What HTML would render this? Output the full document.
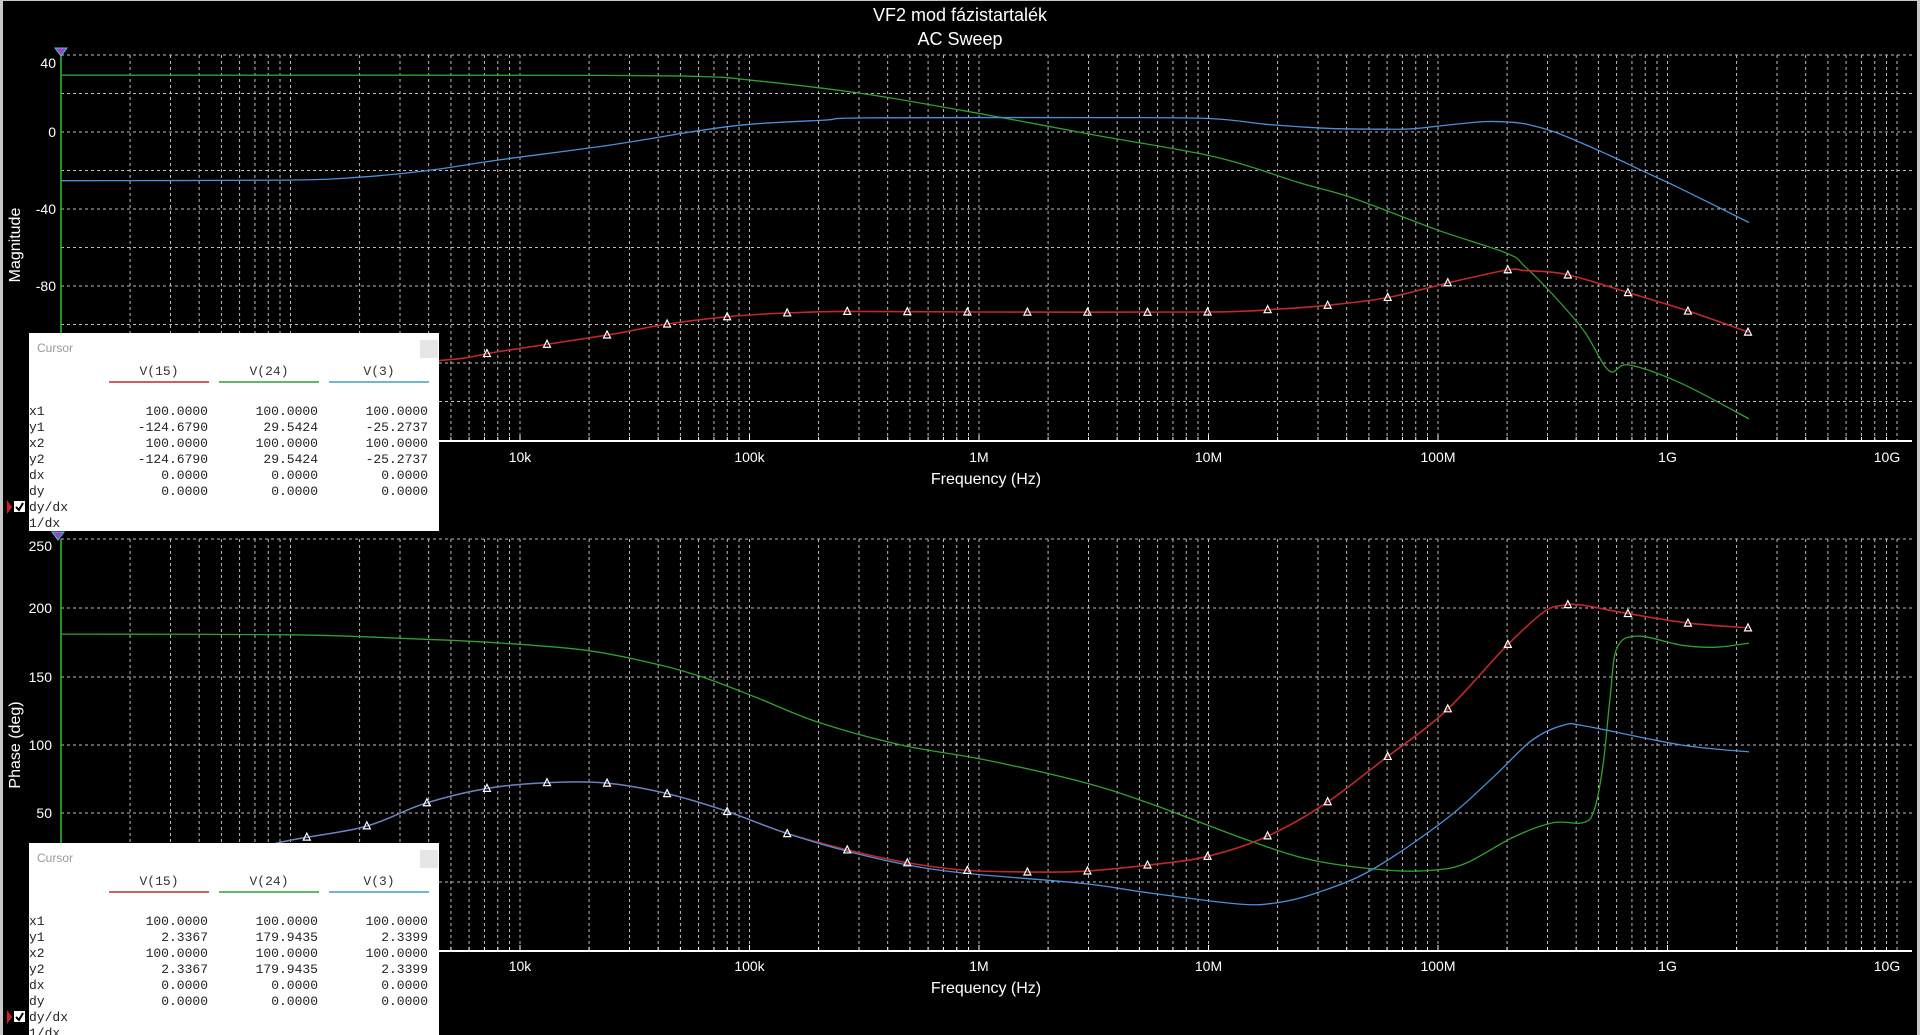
<!DOCTYPE html>
<html><head><meta charset="utf-8"><style>
html,body{margin:0;padding:0;background:#000;width:1920px;height:1035px;overflow:hidden}
svg{display:block}
</style></head><body>
<svg id="s" width="1920" height="1035" xmlns="http://www.w3.org/2000/svg" font-family="Liberation Sans, sans-serif">
<rect width="1920" height="1035" fill="#000"/>
<rect x="0" y="0" width="3" height="1035" fill="#c8c8c8"/>
<rect x="1917" y="0" width="3" height="1035" fill="#c8c8c8"/>
<rect x="0" y="0" width="1920" height="1" fill="#c8c8c8"/>
<text x="960" y="21" fill="#fff" font-size="18" text-anchor="middle">VF2 mod fázistartalék</text>
<text x="960" y="45" fill="#fff" font-size="18" text-anchor="middle">AC Sweep</text>
<g id="g"></g>
</svg>
<script>
var NS="http://www.w3.org/2000/svg",g=document.getElementById('g');
function el(t,a,txt){var e=document.createElementNS(NS,t);for(var k in a)e.setAttribute(k,a[k]);if(txt!=null)e.textContent=txt;g.appendChild(e);return e;}
var L=61,D=229.5;function X(lf){return L+D*(lf-2);}
function Yt(v){return 132-1.925*v;} function Yb(v){return 882-1.377*v;}
function grid(y0,y1,hs){
 for(var n=2;n<=9;n++)for(var k=1;k<=9;k++){var x=X(n+Math.log10(k));if(n==2&&k==1)continue;el('line',{x1:x,x2:x,y1:y0,y2:y1,stroke:'#bdbdbd','stroke-width':1,'stroke-dasharray':'3,3'});}
 var x=X(10);el('line',{x1:x,x2:x,y1:y0,y2:y1,stroke:'#bdbdbd','stroke-width':1,'stroke-dasharray':'3,3'});
 hs.forEach(function(y){el('line',{x1:L,x2:1912,y1:y,y2:y,stroke:'#bdbdbd','stroke-width':1,'stroke-dasharray':'3,3'});});
 el('line',{x1:L,x2:1912,y1:y1,y2:y1,stroke:'#fff','stroke-width':2});
 for(var n=2;n<=9;n++)for(var k=1;k<=9;k++){var x=X(n+Math.log10(k));el('line',{x1:x,x2:x,y1:y1,y2:y1-(k==1?6:4),stroke:'#fff','stroke-width':1});}
 el('line',{x1:L,x2:L,y1:y0,y2:y1,stroke:'#2ec02e','stroke-width':1.5});
}
var ht=[];for(var i=0;i<10;i++)ht.push(55+i*38.5);
grid(55,441,ht);
var hb=[539,608,677,745,813,882];
grid(539,951,hb);
// labels
[["40",63],["0",132],["-40",209],["-80",286]].forEach(function(a){el('text',{x:56,y:a[1]+5,fill:'#fff','font-size':14,'text-anchor':'end'},a[0]);});
[["250",546],["200",608],["150",677],["100",745],["50",813]].forEach(function(a){el('text',{x:52,y:a[1]+5,fill:'#fff','font-size':14,'text-anchor':'end'},a[0]);});
var xl=["10k","100k","1M","10M","100M","1G","10G"];
xl.forEach(function(t,i){var x=X(4+i);if(i==6)x-=10;el('text',{x:x,y:462,fill:'#fff','font-size':14,'text-anchor':'middle'},t);el('text',{x:x,y:971,fill:'#fff','font-size':14,'text-anchor':'middle'},t);});
el('text',{x:986,y:484,fill:'#fff','font-size':16,'text-anchor':'middle'},"Frequency (Hz)");
el('text',{x:986,y:993,fill:'#fff','font-size':16,'text-anchor':'middle'},"Frequency (Hz)");
el('text',{x:0,y:0,fill:'#fff','font-size':16,'text-anchor':'middle',transform:'translate(20,245) rotate(-90)'},"Magnitude");
el('text',{x:0,y:0,fill:'#fff','font-size':16,'text-anchor':'middle',transform:'translate(20,745) rotate(-90)'},"Phase (deg)");
// curves
function path(pts,fy,col,w){
 var P=pts.map(function(p){return [X(p[0]),fy(p[1])];});
 var d='M'+P[0][0].toFixed(1)+','+P[0][1].toFixed(1);
 for(var i=0;i<P.length-1;i++){var p0=P[i-1]||P[i],p1=P[i],p2=P[i+1],p3=P[i+2]||P[i+1];
  var c1=[p1[0]+(p2[0]-p0[0])/6,p1[1]+(p2[1]-p0[1])/6],c2=[p2[0]-(p3[0]-p1[0])/6,p2[1]-(p3[1]-p1[1])/6];
  d+='C'+c1.map(function(v){return v.toFixed(1)}).join(',')+' '+c2.map(function(v){return v.toFixed(1)}).join(',')+' '+p2[0].toFixed(1)+','+p2[1].toFixed(1);}
 var e=el('path',{d:d,fill:'none',stroke:col,'stroke-width':w||1.3});return e;
}
function markers(pts,fy){
 var e=path(pts,fy,'none');var len=e.getTotalLength();
 var xs=[];for(var k=0;k<=28;k++)xs.push(66.6+60.05*k);
 // sample path for x
 var samp=[];for(var s=0;s<=len;s+=1){var q=e.getPointAtLength(s);samp.push(q);}
 xs.forEach(function(x){var best=null;for(var i=0;i<samp.length;i++){if(samp[i].x>=x){best=samp[i];break;}}if(!best)return;
  el('path',{d:'M'+x+','+(best.y-4)+' L'+(x-3.5)+','+(best.y+3)+' L'+(x+3.5)+','+(best.y+3)+' Z',fill:'none',stroke:'#fff','stroke-width':1.2});});
}
var RED='#c0282a',GRN='#30a030',BLU='#4a90d8';
var tG=[[2,29.5],[3.5,29.5],[4.36,29.4],[4.8,28.8],[5.0,27],[5.49,20],[6.04,8.8],[6.5,-1.5],[7.03,-13],[7.4,-26.5],[7.62,-34],[8.0,-51],[8.3,-63],[8.38,-70],[8.52,-87],[8.64,-104],[8.745,-124],[8.83,-121],[9.05,-130],[9.355,-149]];
var tB=[[2,-25.3],[2.98,-25],[3.3,-23.5],[3.6,-20],[3.91,-14.5],[4.38,-7],[4.77,0.5],[5.0,4],[5.33,6.2],[5.5,7.3],[6.5,7.5],[7.0,7.0],[7.25,4],[7.5,2],[7.7,1.5],[7.88,1.6],[8.04,3.6],[8.2,5.4],[8.3,5.2],[8.38,4.2],[8.52,-0.5],[8.745,-12],[8.9,-20.7],[9.05,-29],[9.355,-47]];
var tR=[[2,-124.7],[3.0,-122],[3.66,-118.6],[3.91,-114],[4.38,-105.5],[4.63,-100],[4.9,-96],[5.16,-94],[5.42,-93.2],[6.0,-93.5],[7.0,-93.5],[7.3,-92],[7.52,-90],[7.78,-86],[8.04,-78.5],[8.3,-71.7],[8.38,-72],[8.56,-74],[8.83,-83.5],[9.09,-93],[9.355,-104]];
path(tG,Yt,GRN);path(tB,Yt,BLU);path(tR,Yt,RED,1.6);markers(tR,Yt);
var bG=[[2,180],[3.0,179.5],[3.48,177],[3.92,173.5],[4.3,168],[4.61,157.6],[4.81,148],[5.03,134],[5.3,116],[5.66,99.5],[6.03,88.6],[6.45,72.6],[6.745,57],[7.17,30.5],[7.45,16],[7.77,8.7],[7.97,8.4],[8.12,13.5],[8.33,32.7],[8.5,43],[8.63,43],[8.68,52],[8.72,86],[8.75,134],[8.78,170],[8.87,178.6],[9.06,172],[9.21,170.5],[9.355,173.5]];
var bB=[[2,2.3],[2.5,10],[2.96,29],[3.32,40],[3.58,56.7],[3.84,67.5],[4.1,72],[4.37,72],[4.63,64.6],[4.89,52],[5.15,36],[5.41,23],[5.67,13],[5.93,6.5],[6.45,-1],[6.745,-8],[7.13,-16],[7.3,-15],[7.47,-8],[7.71,8.7],[8.03,45],[8.24,76],[8.41,103],[8.55,114],[8.65,113],[9.06,99.5],[9.355,94.5]];
var bR=[[2,2.3],[2.5,10],[2.96,29],[3.32,40],[3.58,56.7],[3.84,67.5],[4.1,72],[4.37,72],[4.63,64.6],[4.89,52],[5.15,36],[5.41,24],[5.67,14.5],[5.93,8.7],[6.19,7.3],[6.45,7.8],[6.72,12],[6.98,18],[7.24,32],[7.5,56],[7.76,88.5],[8.03,123.5],[8.29,170],[8.46,196],[8.55,201],[8.63,201],[8.81,195.5],[9.09,188],[9.355,184.5]];
path(bG,Yb,GRN);path(bR,Yb,RED,1.6);path(bB,Yb,BLU);markers(bR,Yb);
// cursor indicators
el('path',{d:'M55,48 L67,48 L61,56 Z',fill:'#a040c0',stroke:'#4ac0e0','stroke-width':1});
el('path',{d:'M52,532 L64,532 L58,540 Z',fill:'#a040c0',stroke:'#4ac0e0','stroke-width':1});
// cursor boxes
function box(y0,v){
 el('rect',{x:29,y:y0,width:410,height:(y0>800?1035-y0:198),fill:'#fff'});
 el('rect',{x:420,y:y0+7,width:18,height:18,fill:'#e6e6e6'});
 el('text',{x:37,y:y0+19,fill:'#999','font-size':12},"Cursor");
 var hx=[159,269,379],cols=[RED,GRN,'#3aa0c0'],hn=["V(15)","V(24)","V(3)"];
 for(var i=0;i<3;i++){el('text',{x:hx[i],y:y0+42,fill:'#333','font-size':13,'font-family':'Liberation Mono, monospace','text-anchor':'middle'},hn[i]);
  el('line',{x1:hx[i]-50,x2:hx[i]+50,y1:y0+49,y2:y0+49,stroke:cols[i],'stroke-width':1.5});}
 var rl=["x1","y1","x2","y2","dx","dy","dy/dx","1/dx"],vx=[208,318,428];
 for(var r=0;r<8;r++){var y=y0+82+r*16;if(y>1040)break;
  el('text',{x:29,y:y,fill:'#222','font-size':13,'font-family':'Liberation Mono, monospace'},rl[r]);
  if(r<6)for(var c=0;c<3;c++)el('text',{x:vx[c],y:y,fill:'#222','font-size':13,'font-family':'Liberation Mono, monospace','text-anchor':'end'},v[r][c]);}
 var cy=y0+82+6*16-4;
 el('path',{d:'M7,'+(cy-7)+' L12,'+cy+' L7,'+(cy+7)+' Z',fill:'#d02020'});
 el('rect',{x:14,y:cy-6,width:11,height:11,fill:'#fff'});
 el('path',{d:'M16,'+cy+' L19,'+(cy+3)+' L23,'+(cy-4),fill:'none',stroke:'#000','stroke-width':2});
}
box(333,[["100.0000","100.0000","100.0000"],["-124.6790","29.5424","-25.2737"],["100.0000","100.0000","100.0000"],["-124.6790","29.5424","-25.2737"],["0.0000","0.0000","0.0000"],["0.0000","0.0000","0.0000"]]);
box(843,[["100.0000","100.0000","100.0000"],["2.3367","179.9435","2.3399"],["100.0000","100.0000","100.0000"],["2.3367","179.9435","2.3399"],["0.0000","0.0000","0.0000"],["0.0000","0.0000","0.0000"]]);
</script>
</body></html>
